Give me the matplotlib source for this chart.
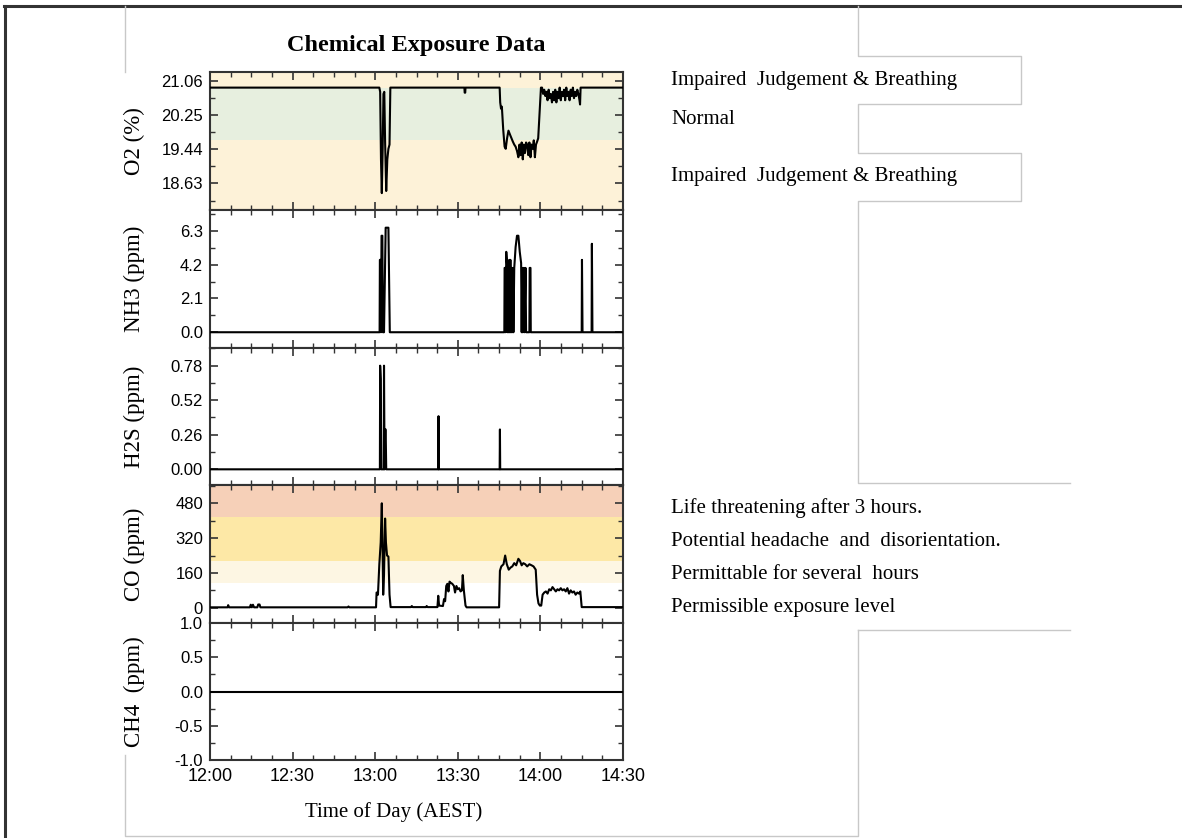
import matplotlib
matplotlib.use("Agg")
import matplotlib.pyplot as plt
from matplotlib.lines import Line2D
from matplotlib.ticker import MultipleLocator, FixedLocator

W, H = 1182, 838

# minutes after 12:00 and readings
o2_t = [0, 61.5, 61.8, 62.1, 62.4, 62.7, 63.0, 63.3, 63.6, 64.0, 64.4, 64.8, 65.2, 65.5,
        92.4, 92.5, 92.7, 92.8,
        105.2, 105.4, 105.7, 106.0, 106.5, 107.0, 107.4, 107.9, 108.4, 109.0, 109.5, 110.0,
        110.5, 111.0, 111.5, 112.0, 112.4, 112.8, 113.2, 113.6, 114.0, 114.4, 114.8, 115.2,
        115.6, 116.0, 116.4, 116.8, 117.2, 117.6, 118.0, 118.4, 118.8, 119.2,
        120.2, 120.6, 121.0, 121.4, 121.8, 122.2, 122.6, 123.0, 123.4, 123.8, 124.2, 124.6,
        125.0, 125.4, 125.8, 126.2, 126.6, 127.0, 127.4, 127.8, 128.2, 128.6, 129.0, 129.4,
        129.8, 130.2, 130.6, 131.0, 131.4, 131.8, 132.2, 132.6, 133.0, 133.4, 133.8, 134.2,
        134.4, 134.6, 150]
o2_v = [20.90, 20.90, 20.80, 19.20, 18.40, 19.40, 20.75, 20.80, 19.60, 18.45, 19.20, 19.45, 19.55, 20.90,
        20.90, 20.78, 20.78, 20.90,
        20.90, 20.55, 20.40, 20.45, 19.90, 19.50, 19.45, 19.70, 19.88, 19.78, 19.70, 19.62,
        19.55, 19.50, 19.40, 19.25, 19.55, 19.30, 19.60, 19.20, 19.55, 19.35, 19.60, 19.55,
        19.30, 19.60, 19.25, 19.55, 19.45, 19.65, 19.25, 19.55, 19.62, 19.70,
        20.90, 20.90, 20.75, 20.85, 20.70, 20.80, 20.60, 20.85, 20.65, 20.75, 20.55, 20.80,
        20.60, 20.85, 20.55, 20.80, 20.65, 20.90, 20.60, 20.80, 20.70, 20.85, 20.60, 20.90,
        20.70, 20.80, 20.60, 20.85, 20.70, 20.90, 20.65, 20.80, 20.70, 20.85, 20.75, 20.60,
        20.50, 20.90, 20.90]

nh3_t = [0, 61.6, 61.7, 62.0, 62.1, 62.3, 62.6, 62.8, 63.2, 63.8, 64.8, 65.3,
         106.9, 107.0, 107.3, 107.4, 107.6, 107.9, 108.1, 108.3, 108.5, 108.7, 108.9, 109.1,
         109.3, 109.5, 109.7, 110.0, 110.2, 110.5, 111.0, 111.5, 112.0, 112.5, 113.0, 113.2,
         113.4, 113.6, 114.0, 114.2, 114.6, 114.8, 116.0, 116.1, 116.4, 116.5,
         135.0, 135.1, 135.3, 138.6, 138.7, 138.9, 150]
nh3_v = [0, 0, 4.5, 4.5, 0, 6.0, 6.0, 0, 0, 6.5, 6.5, 0,
         0, 4.0, 4.0, 0, 5.0, 4.2, 0, 4.0, 0, 4.5, 0, 4.5,
         0, 4.0, 0, 4.0, 0, 4.0, 5.3, 6.0, 6.0, 5.0, 4.3, 0,
         4.0, 0, 4.0, 0, 4.0, 0, 0, 4.0, 4.0, 0,
         0, 4.5, 0, 0, 5.5, 0, 0]

h2s_t = [0, 61.7, 61.8, 62.0, 62.2, 63.1, 63.2, 63.4, 63.6, 63.8, 64.0,
         82.9, 83.0, 83.1, 105.2, 105.3, 105.4, 150]
h2s_v = [0, 0, 0.78, 0.68, 0, 0, 0.78, 0, 0.30, 0.30, 0,
         0, 0.40, 0, 0, 0.30, 0, 0]

co_t = [0, 6.4, 6.6, 6.9, 14.5, 14.8, 15.2, 15.6, 16.0, 17.2, 17.5, 18.0, 18.3,
        50.0, 50.3, 50.6, 60.3, 60.5, 60.8, 61.0, 61.5, 62.0, 62.4, 62.7, 62.9, 63.2,
        63.6, 63.9, 64.3, 64.8, 65.2, 65.6, 73.0, 73.3, 73.6, 78.5, 78.7, 79.0,
        82.6, 82.9, 83.2, 84.6, 85.0, 85.4, 85.8, 86.2, 86.6, 87.0, 87.4, 88.0, 88.6,
        89.0, 89.5, 90.0, 90.5, 91.0, 91.5, 91.8, 92.2, 92.8, 93.2,
        105.0, 105.3, 105.8, 106.6, 107.2, 107.8, 108.5, 109.2, 109.8, 110.5, 111.2,
        112.0, 112.6, 113.2, 113.8, 114.5, 115.2, 116.0, 116.8, 117.5, 118.3, 118.8,
        119.3, 119.8, 120.3, 120.8, 121.4, 122.0, 122.6, 123.2, 123.8, 124.4, 125.0,
        125.6, 126.2, 126.8, 127.4, 128.0, 128.6, 129.2, 129.8, 130.4, 131.0, 131.6,
        132.2, 132.8, 133.4, 134.0, 134.5, 135.0, 150]
co_v = [2, 2, 12, 2, 2, 14, 2, 14, 2, 2, 15, 15, 2,
        2, 6, 2, 2, 70, 70, 60, 200, 300, 480, 250, 60, 150,
        410, 300, 240, 235, 60, 3, 3, 8, 3, 3, 8, 3,
        3, 55, 10, 8, 40, 30, 100, 110, 75, 120, 115, 110, 100,
        70, 100, 85, 90, 75, 80, 150, 80, 10, 2,
        2, 170, 190, 200, 240, 200, 175, 185, 190, 205, 195,
        225, 215, 195, 205, 200, 190, 200, 195, 190, 175, 60,
        20, 10, 10, 60, 70, 75, 65, 85, 80, 95, 85,
        75, 85, 80, 90, 80, 85, 75, 90, 65, 80, 70,
        75, 60, 70, 65, 75, 3, 3]

ch4_t = [0, 150]
ch4_v = [0, 0]

panels = [
    ("O2 (%)", o2_t, o2_v, (18.0, 21.27), [18.63, 19.44, 20.25, 21.06], 0.405, "{:.2f}"),
    ("NH3 (ppm)", nh3_t, nh3_v, (-0.98, 7.6), [0.0, 2.1, 4.2, 6.3], 1.05, "{:.1f}"),
    ("H2S (ppm)", h2s_t, h2s_v, (-0.118, 0.913), [0.0, 0.26, 0.52, 0.78], 0.13, "{:.2f}"),
    ("CO (ppm)", co_t, co_v, (-70, 564), [0, 160, 320, 480], 80, "{:.0f}"),
    ("CH4  (ppm)", ch4_t, ch4_v, (-1.0, 1.0), [-1.0, -0.5, 0.0, 0.5, 1.0], 0.25, "{:.1f}"),
]

o2_bands = [(20.9, 21.27, "#fdf2d8"), (19.65, 20.9, "#e7efdf"), (18.0, 19.65, "#fdf2d8")]
co_bands = [(415, 564, "#f6d0b8"), (215, 415, "#fde8a6"), (112, 215, "#fdf6e3")]

o2_notes = [("Impaired  Judgement & Breathing", 81), ("Normal", 120),
            ("Impaired  Judgement & Breathing", 177)]
co_notes = [("Life threatening after 3 hours.", 508),
            ("Potential headache  and  disorientation.", 541),
            ("Permittable for several  hours", 574),
            ("Permissible exposure level", 607)]

x_ticks = [0, 30, 60, 90, 120, 150]
x_labels = ["12:00", "12:30", "13:00", "13:30", "14:00", "14:30"]

serif = "Liberation Serif"
sans = "Liberation Sans"

fig = plt.figure(figsize=(W / 100, H / 100), dpi=100)

edges = [72, 210, 348, 485, 623, 760]
left, right = 210, 623
axes = []
for i, (label, t, v, ylim, yt, ymin, fmt) in enumerate(panels):
    top, bot = edges[i], edges[i + 1]
    ax = fig.add_axes([left / W, 1 - bot / H, (right - left) / W, (bot - top) / H])
    if i == 0:
        for lo, hi, c in o2_bands:
            ax.axhspan(lo, hi, color=c, lw=0, zorder=0)
    if i == 3:
        for lo, hi, c in co_bands:
            ax.axhspan(lo, hi, color=c, lw=0, zorder=0)
    ax.plot(t, v, color="black", lw=1.5, zorder=3)
    ax.set_xlim(0, 150)
    ax.set_ylim(*ylim)
    ax.yaxis.set_major_locator(FixedLocator(yt))
    ax.set_yticklabels([fmt.format(y) for y in yt], fontfamily=sans, fontsize=12)
    ax.yaxis.set_minor_locator(MultipleLocator(ymin))
    ax.xaxis.set_major_locator(FixedLocator(x_ticks))
    ax.xaxis.set_minor_locator(MultipleLocator(7.5))
    ax.tick_params(which="both", direction="in", top=True, right=True, color="#333333")
    ax.tick_params(which="major", length=6, width=1.2, pad=5)
    ax.tick_params(which="minor", length=3.5, width=1.0)
    if i == len(panels) - 1:
        ax.set_xticklabels(x_labels, fontfamily=sans, fontsize=13)
        ax.tick_params(axis="x", pad=6)
    else:
        ax.set_xticklabels([])
    for s in ax.spines.values():
        s.set_color("#333333")
        s.set_linewidth(1.5)
    ax.set_ylabel(label, fontfamily=serif, fontsize=16.5)
    ax.yaxis.set_label_coords(-0.158, 0.5)
    axes.append(ax)

fig.text(416 / W, 1 - 45 / H, "Chemical Exposure Data", fontfamily=serif,
         fontweight="bold", fontsize=17.5, ha="center", va="center")
fig.text(394 / W, 1 - 812 / H, "Time of Day (AEST)", fontfamily=serif,
         fontsize=15, ha="center", va="center")

for txt, y in o2_notes + co_notes:
    fig.text(671 / W, 1 - y / H, txt, fontfamily=serif, fontsize=15,
             ha="left", va="center")


def seg(xs, ys, color, lw):
    fig.add_artist(Line2D([x / W for x in xs], [1 - y / H for y in ys],
                          transform=fig.transFigure, color=color, lw=lw))


# screenshot frame and text box outlines
seg([4, 1182], [6, 6], "#333333", 2.2)
seg([5, 5], [6, 838], "#333333", 2.2)
grey = "#c8c8c8"
seg([125, 125], [6, 72], grey, 1)
seg([125, 125, 858, 858], [755, 836, 836, 630], grey, 1)
seg([858, 858, 1021, 1021, 858, 858, 1021, 1021, 858, 858, 1070], [6, 56, 56, 104, 104, 153, 153, 201, 201, 483, 483], grey, 1)
seg([1070, 858], [630, 630], grey, 1)

fig.savefig("out.png", dpi=100)
